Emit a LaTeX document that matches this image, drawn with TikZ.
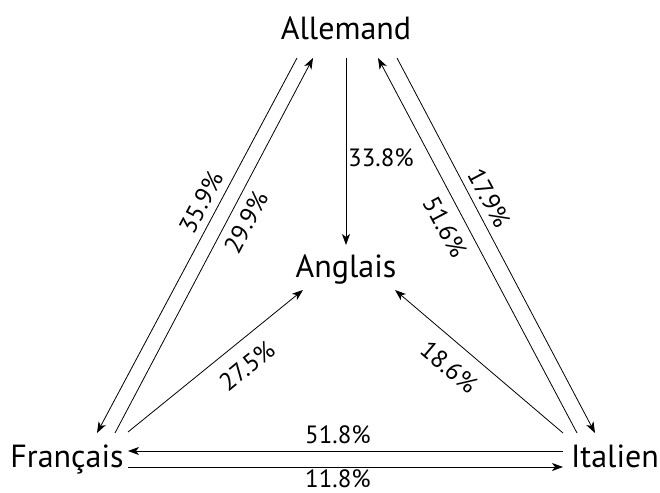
\documentclass[tikz,border=0pt]{standalone}
\usepackage{fontspec}
\setmainfont{PT Sans}
\usetikzlibrary{arrows.meta}

\tikzset{
  lang/.style={inner sep=0pt, anchor=base, font=\fontsize{32}{36}\selectfont},
  pct/.style={inner sep=0pt, font=\fontsize{25}{29}\selectfont},
  link/.style={line width=0.8pt, -{Stealth[length=11pt,width=8pt,inset=3pt]}},
}

\begin{document}
\begin{tikzpicture}[x=1pt,y=1pt]
            \useasboundingbox (0,0) rectangle (660,492);

            % languages
            \node[lang] (al) at (346,452) {Allemand};
            \node[lang] (an) at (346,214) {Anglais};
            \node[lang] (fr) at (67,25) {Français};
            \node[lang] (it) at (615,25) {Italien};

            % flows
            \draw[link] ([shift={(-49,-18)}]al.base) -- ([shift={(30,34)}]fr.base);
            \draw[link] ([shift={(48,34)}]fr.base) -- ([shift={(-33,-18)}]al.base);
            \draw[link] ([shift={(0,-18)}]al.base) -- ([shift={(0,33)}]an.base);
            \draw[link] ([shift={(-38,34)}]it.base) -- ([shift={(32,-18)}]al.base);
            \draw[link] ([shift={(51,-18)}]al.base) -- ([shift={(-20,34)}]it.base);
            \draw[link] ([shift={(61,35)}]fr.base) -- ([shift={(-43,-12)}]an.base);
            \draw[link] ([shift={(-52,34)}]it.base) -- ([shift={(49,-12)}]an.base);
            \draw[link] ([shift={(-52,16)}]it.base) -- ([shift={(61,16)}]fr.base);
            \draw[link] ([shift={(61,0)}]fr.base) -- ([shift={(-52,0)}]it.base);

            % shares
            \node[pct, rotate=62] (p359) at (201,290) {35.9\%};
            \node[pct, rotate=62] (p299) at (246,270) {29.9\%};
            \node[pct] (p338) at (381,334) {33.8\%};
            \node[pct, rotate=-62] (p516) at (445,265) {51.6\%};
            \node[pct, rotate=-62] (p179) at (489,294) {17.9\%};
            \node[pct, rotate=39] (p275) at (247,126) {27.5\%};
            \node[pct, rotate=-40] (p186) at (449,125) {18.6\%};
            \node[pct] (p518) at (338,57) {51.8\%};
            \node[pct] (p118) at (338,13) {11.8\%};
\end{tikzpicture}
\end{document}
